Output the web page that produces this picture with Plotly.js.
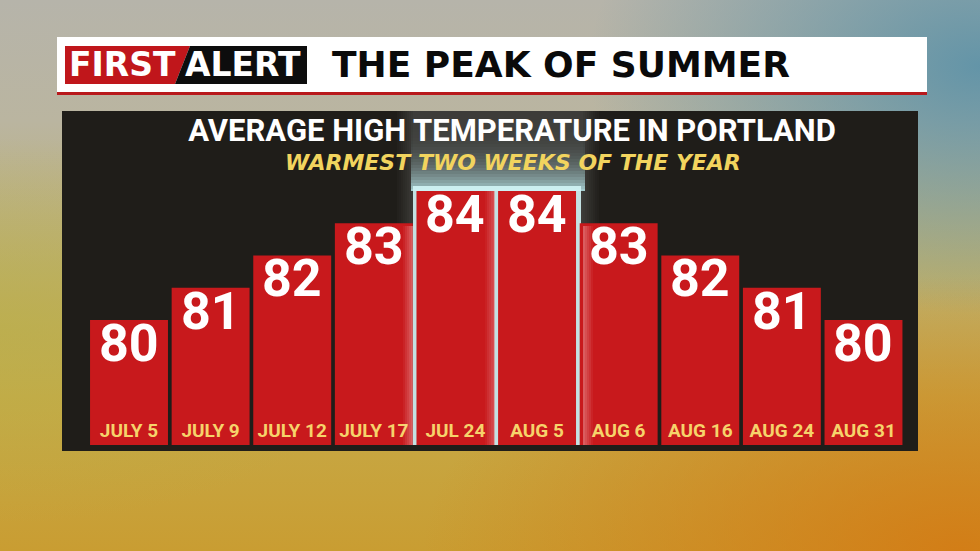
<!DOCTYPE html>
<html>
<head>
<meta charset="utf-8">
<script src="https://cdn.plot.ly/plotly-3.0.1.min.js"></script>
<style>
  html, body { margin:0; padding:0; width:980px; height:551px; overflow:hidden; }
  body {
    background:
      radial-gradient(ellipse 40% 45% at 100% 12%, rgba(90,145,168,0.9), rgba(90,145,168,0) 100%),
      radial-gradient(ellipse 55% 50% at 98% 100%, rgba(212,120,18,0.85), rgba(212,120,18,0) 100%),
      radial-gradient(ellipse 40% 35% at 0% 60%, rgba(185,175,70,0.6), rgba(185,175,70,0) 100%),
      linear-gradient(180deg, #b6b4aa 0%, #bab5a0 22%, #bdb070 48%, #c6aa48 72%, #c99d32 100%);
  }
  #chart { width:980px; height:551px; }
</style>
</head>
<body>
<div id="chart"></div>
<script>
// ---- data ----
const categories = ["JULY 5", "JULY 9", "JULY 12", "JULY 17", "JUL 24", "AUG 5", "AUG 6", "AUG 16", "AUG 24", "AUG 31"];
const temps = [80, 81, 82, 83, 84, 84, 83, 82, 81, 80];
const chartTitle = "AVERAGE HIGH TEMPERATURE IN PORTLAND";
const chartSubtitle = "WARMEST TWO WEEKS OF THE YEAR";
const headline = "THE PEAK OF SUMMER";

// ---- helpers: pixel -> paper coords (margins are 0) ----
const W = 980, H = 551;
const px = x => x / W;
const py = y => (H - y) / H;

function rect(x0, y0, x1, y1, fill, layer) {
  return {type:'rect', xref:'paper', yref:'paper', x0:px(x0), x1:px(x1), y0:py(y1), y1:py(y0),
          fillcolor:fill, line:{width:0}, layer: layer || 'below'};
}
function path(pts, fill) {
  const d = pts.map((p,i)=> (i?'L':'M') + px(p[0]) + ',' + py(p[1])).join(' ') + ' Z';
  return {type:'path', xref:'paper', yref:'paper', path:d, fillcolor:fill, line:{width:0}, layer:'below'};
}

const shapes = [
  // header bar
  rect(57, 37, 927, 92, '#ffffff'),
  rect(57, 92, 927, 95, '#b8191c'),
  // logo
  path([[65,46],[190,46],[175,84],[65,84]], '#c0161b'),
  path([[190,46],[307,46],[307,84],[175,84]], '#0d0d0d'),
  // dark panel
  rect(62, 111, 918, 451, '#1f1d19')
];

// highlighted column: soft grey halo with brighter inner part
for (let k = 0; k < 8; k++) {
  const a = 0.02 + 0.016 * k;
  shapes.push(rect(397 + 2*k, 111, 399 + 2*k, 445, 'rgba(235,240,240,' + a.toFixed(3) + ')'));
  shapes.push(rect(597 - 2*k, 111, 599 - 2*k, 445, 'rgba(235,240,240,' + a.toFixed(3) + ')'));
}
shapes.push(rect(413, 111, 583, 445, 'rgba(235,240,240,0.15)'));
// vertical cyan light gradient just above the warmest bars
for (let yy = 120; yy < 191; yy += 3) {
  const t = (yy - 120) / 71;
  const a = 0.02 + 0.85 * Math.pow(t, 2.6);
  shapes.push(rect(411, yy, 585, Math.min(yy + 3, 191), 'rgba(190,238,242,' + a.toFixed(3) + ')'));
}
shapes.push(rect(413, 186, 581, 445, 'rgba(210,244,246,0.9)'));

// light spilling over the edges of neighbouring bars (drawn above the bars)
for (let k = 0; k < 5; k++) {
  const a = 0.05 + 0.07 * k;
  shapes.push(rect(403 + 2*k, 226, 405 + 2*k, 445, 'rgba(255,235,235,' + a.toFixed(2) + ')', 'above'));
  shapes.push(rect(591 - 2*k, 226, 593 - 2*k, 445, 'rgba(255,235,235,' + a.toFixed(2) + ')', 'above'));
  shapes.push(rect(485 + 2*k, 191, 487 + 2*k, 445, 'rgba(255,235,235,' + (a*0.8).toFixed(2) + ')', 'above'));
}

const annotations = [
  {xref:'paper', yref:'paper', x:px(330), y:py(64), xanchor:'left', yanchor:'middle', showarrow:false,
   text: headline, font:{family:'DejaVu Sans', size:36, color:'#0a0a0a', weight:'bold'}},
  {xref:'paper', yref:'paper', x:px(122), y:py(65), xanchor:'center', yanchor:'middle', showarrow:false,
   text:'FIRST', font:{family:'DejaVu Sans', size:33, color:'#ffffff', weight:'bold'}},
  {xref:'paper', yref:'paper', x:px(243), y:py(65), xanchor:'center', yanchor:'middle', showarrow:false,
   text:'ALERT', font:{family:'DejaVu Sans', size:33, color:'#ffffff', weight:'bold'}},
  {xref:'paper', yref:'paper', x:px(513), y:py(162), xanchor:'center', yanchor:'middle', showarrow:false,
   text: chartSubtitle, font:{family:'DejaVu Sans', size:22, color:'#f2d45e', weight:'bold', style:'italic'}}
];

// value labels at the top of each bar
temps.forEach((v, i) => {
  annotations.push({xref:'x', yref:'y', x:categories[i], y:v, xanchor:'center', yanchor:'top',
    yshift:9, showarrow:false, text:String(v),
    font:{family:'Roboto', size:52, color:'#ffffff', weight:'bold'}});
});

const trace = {
  type:'bar',
  x: categories,
  y: temps,
  marker:{color:'#c8191c', line:{width:0}},
  hoverinfo:'x+y'
};

const layout = {
  width:W, height:H,
  margin:{l:0, r:0, t:0, b:0, pad:0},
  paper_bgcolor:'rgba(0,0,0,0)',
  plot_bgcolor:'rgba(0,0,0,0)',
  showlegend:false,
  bargap:0.045,
  title:{text: chartTitle, xref:'paper', yref:'paper', x:px(512), y:py(130), xanchor:'center', yanchor:'middle',
         font:{family:'Roboto', size:31, color:'#ffffff', weight:'bold'}},
  xaxis:{domain:[px(88.2), px(904.3)], type:'category', showgrid:false, zeroline:false, showline:false,
         ticks:'', tickangle:0, ticklabelposition:'inside', ticklabelstandoff:1,
         tickfont:{family:'Roboto, sans-serif', size:19, color:'#f6d36b', weight:'bold'}},
  yaxis:{domain:[py(445), py(111)], range:[76.12, 86.48], showgrid:false, zeroline:false, showline:false,
         showticklabels:false, ticks:''},
  shapes: shapes,
  annotations: annotations
};

Plotly.newPlot('chart', [trace], layout, {displayModeBar:false, staticPlot:true});
</script>
</body>
</html>
